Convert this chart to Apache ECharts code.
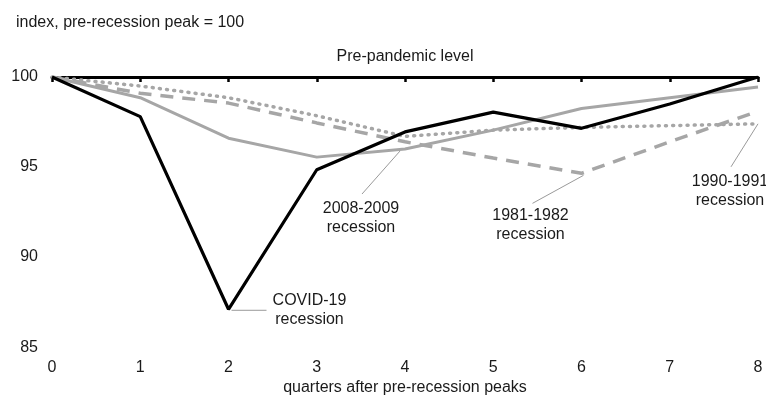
<!DOCTYPE html>
<html>
<head>
<meta charset="utf-8">
<script src="https://cdn.jsdelivr.net/npm/echarts@6/dist/echarts.min.js"></script>
<style>
html,body{margin:0;padding:0;background:#fff;}
#c{width:766px;height:401px;}
</style>
</head>
<body>
<div id="c"></div>
<script>
var quarters = [0, 1, 2, 3, 4, 5, 6, 7, 8];
var covid19 = [100, 97.8, 87.1, 94.85, 96.95, 98.05, 97.15, 98.5, 100];
var rec2008 = [100, 98.85, 96.6, 95.55, 96.0, 97.05, 98.25, 98.85, 99.45];
var rec1981 = [100, 99.1, 98.55, 97.45, 96.4, 95.5, 94.65, 96.4, 98.1];
var rec1990 = [100, 99.5, 98.85, 97.85, 96.7, 97.05, 97.2, 97.3, 97.4];
var yTicks = [85, 90, 95, 100];

var FONT = "'Liberation Sans', Arial, sans-serif";
var TXT = '#1a1a1a';
var GRAY = '#a6a6a6';

function pairs(vals) { return quarters.map(function (q, i) { return [q, vals[i]]; }); }

var chart = echarts.init(document.getElementById('c'), null, {renderer: 'canvas'});
var option = {
  animation: false,
  backgroundColor: '#fff',
  title: {
    text: 'index, pre-recession peak = 100',
    left: 11, top: 10,
    textStyle: {fontFamily: FONT, fontSize: 16, fontWeight: 'normal', color: TXT}
  },
  grid: {left: 52, right: 8, top: 77, bottom: 49, containLabel: false},
  xAxis: [{
    type: 'value', min: 0, max: 8, interval: 1, position: 'bottom',
    axisLine: {show: false}, axisTick: {show: false}, splitLine: {show: false},
    axisLabel: {fontFamily: FONT, fontSize: 16, color: TXT, margin: 12},
    name: 'quarters after pre-recession peaks', nameLocation: 'middle', nameGap: 29,
    nameTextStyle: {fontFamily: FONT, fontSize: 16, color: TXT}
  }, {
    type: 'value', min: 0, max: 8, interval: 1, position: 'top',
    axisLine: {show: true, lineStyle: {color: '#000', width: 3}},
    axisTick: {show: true, inside: true, length: 5, lineStyle: {color: '#000', width: 2.5}},
    axisLabel: {show: false}, splitLine: {show: false}
  }],
  yAxis: {
    type: 'value', min: yTicks[0], max: yTicks[yTicks.length - 1], interval: 5,
    axisLine: {show: false}, axisTick: {show: false}, splitLine: {show: false},
    axisLabel: {fontFamily: FONT, fontSize: 16, color: TXT, margin: 14}
  },
  series: [{
    name: '1981-1982 recession', type: 'line', symbol: 'none', data: pairs(rec1981),
    lineStyle: {color: GRAY, width: 3.5, type: [13, 9]}
  }, {
    name: '1990-1991 recession', type: 'line', symbol: 'none', data: pairs(rec1990),
    lineStyle: {color: GRAY, width: 3.5, type: [1, 6.2], cap: 'round'}
  }, {
    name: '2008-2009 recession', type: 'line', symbol: 'none', data: pairs(rec2008),
    lineStyle: {color: GRAY, width: 3}
  }, {
    name: 'COVID-19 recession', type: 'line', symbol: 'none', data: pairs(covid19),
    lineStyle: {color: '#000', width: 3.2}
  }]
};
chart.setOption(option);

// annotations anchored on data points via the chart's own scales
var notes = [
  {x: 2, y: covid19[2], lines: ['COVID-19', 'recession'], line: [[3, 1], [38, 1]], text: [81, 1]},
  {x: 4, y: rec2008[4], lines: ['2008-2009', 'recession'], line: [[-5, 2], [-43, 45]], text: [-44, 69]},
  {x: 6, y: rec1981[6], lines: ['1981-1982', 'recession'], line: [[2, 2], [-49, 30]], text: [-51, 52]},
  {x: 8, y: rec1990[8], lines: ['1990-1991', 'recession'], line: [[0, 0], [-27, 43]], text: [-28, 67]}
];
var g = [];
notes.forEach(function (n) {
  var p = chart.convertToPixel({gridIndex: 0}, [n.x, n.y]);
  g.push({
    type: 'line', silent: true,
    shape: {x1: p[0] + n.line[0][0], y1: p[1] + n.line[0][1], x2: p[0] + n.line[1][0], y2: p[1] + n.line[1][1]},
    style: {stroke: '#9a9a9a', lineWidth: 1}
  });
  g.push({
    type: 'text', silent: true,
    x: p[0] + n.text[0], y: p[1] + n.text[1],
    style: {text: n.lines.join('\n'), font: '16px ' + FONT, fill: TXT, align: 'center', verticalAlign: 'middle', lineHeight: 19}
  });
});
var pp = chart.convertToPixel({gridIndex: 0}, [4, 100]);
g.push({
  type: 'text', silent: true, x: pp[0], y: pp[1] - 20,
  style: {text: 'Pre-pandemic level', font: '16px ' + FONT, fill: TXT, align: 'center', verticalAlign: 'middle'}
});
chart.setOption({graphic: g});
</script>
</body>
</html>
